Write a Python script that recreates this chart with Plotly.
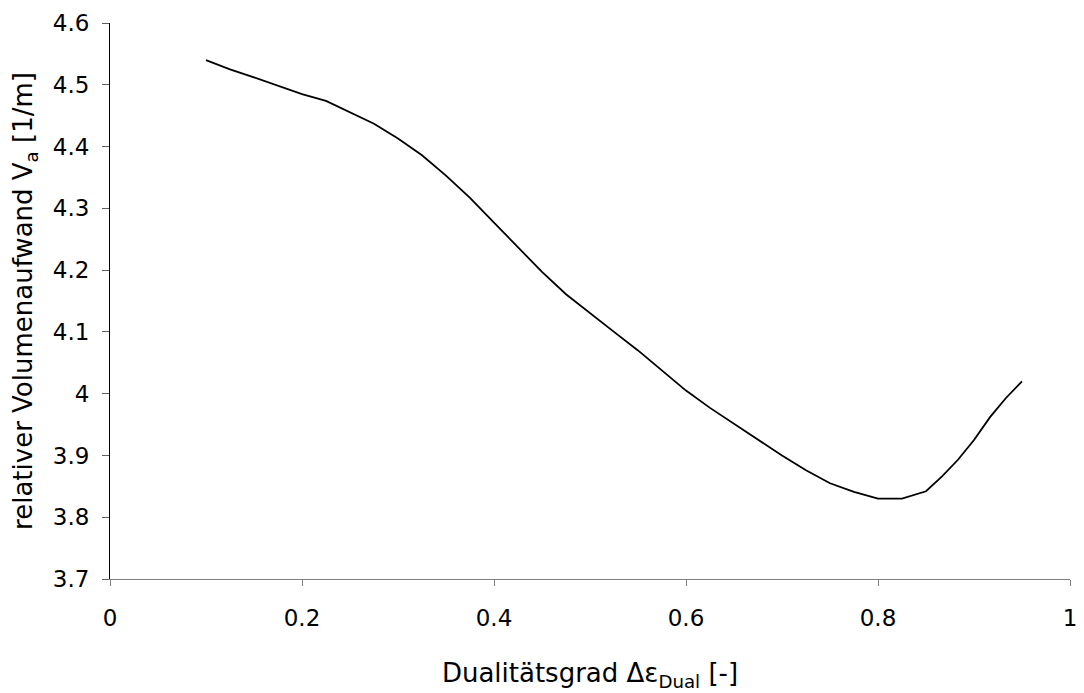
import plotly.graph_objects as go

dualitaet = [0.1, 0.125, 0.15, 0.175, 0.2, 0.225, 0.25, 0.275, 0.3, 0.325, 0.35, 0.375,
             0.4, 0.425, 0.45, 0.475, 0.5, 0.525, 0.55, 0.575, 0.6, 0.625, 0.65, 0.675,
             0.7, 0.725, 0.75, 0.775, 0.8, 0.825, 0.85, 0.8667, 0.8833, 0.9, 0.9167,
             0.9333, 0.95]
volumenaufwand = [4.540, 4.525, 4.512, 4.498, 4.485, 4.474, 4.456, 4.437, 4.413, 4.386,
                  4.353, 4.317, 4.277, 4.237, 4.197, 4.161, 4.130, 4.100, 4.070, 4.037,
                  4.005, 3.977, 3.951, 3.925, 3.900, 3.876, 3.855, 3.841, 3.830, 3.830,
                  3.842, 3.866, 3.893, 3.925, 3.962, 3.993, 4.020]

x_ticks = [0, 0.2, 0.4, 0.6, 0.8, 1]
x_labels = ["0", "0.2", "0.4", "0.6", "0.8", "1"]
y_ticks = [3.7, 3.8, 3.9, 4.0, 4.1, 4.2, 4.3, 4.4, 4.5, 4.6]
y_labels = ["3.7", "3.8", "3.9", "4", "4.1", "4.2", "4.3", "4.4", "4.5", "4.6"]

fig = go.Figure()
fig.add_trace(go.Scatter(x=dualitaet, y=volumenaufwand, mode="lines",
                         line=dict(color="black", width=1.8), showlegend=False))

font = dict(family="DejaVu Sans, Verdana, sans-serif", size=23, color="black")
fig.update_layout(
    width=1084, height=693,
    margin=dict(l=110, r=7, t=23, b=114),
    plot_bgcolor="white", paper_bgcolor="white",
    font=font,
    xaxis=dict(range=[0, 1], tickvals=x_ticks, ticktext=x_labels,
               showgrid=False, zeroline=False, showline=True, linecolor="#808080",
               linewidth=1, ticks="outside", ticklen=6, tickcolor="#808080",
               tickfont=dict(size=23), ticklabelstandoff=12,
               ticklabeloverflow="allow",
               title=dict(text="Dualitätsgrad Δε<sub>Dual</sub> [-]",
                          font=dict(size=26), standoff=34)),
    yaxis=dict(range=[3.7, 4.6], tickvals=y_ticks, ticktext=y_labels,
               showgrid=False, zeroline=False, showline=True, linecolor="black",
               linewidth=1, ticks="outside", ticklen=7, tickcolor="#606060",
               tickfont=dict(size=23), ticklabelstandoff=8,
               ticklabeloverflow="allow",
               title=dict(text="relativer Volumenaufwand V<sub>a</sub> [1/m]",
                          font=dict(size=26), standoff=12)),
)

fig.write_html("out.html")
